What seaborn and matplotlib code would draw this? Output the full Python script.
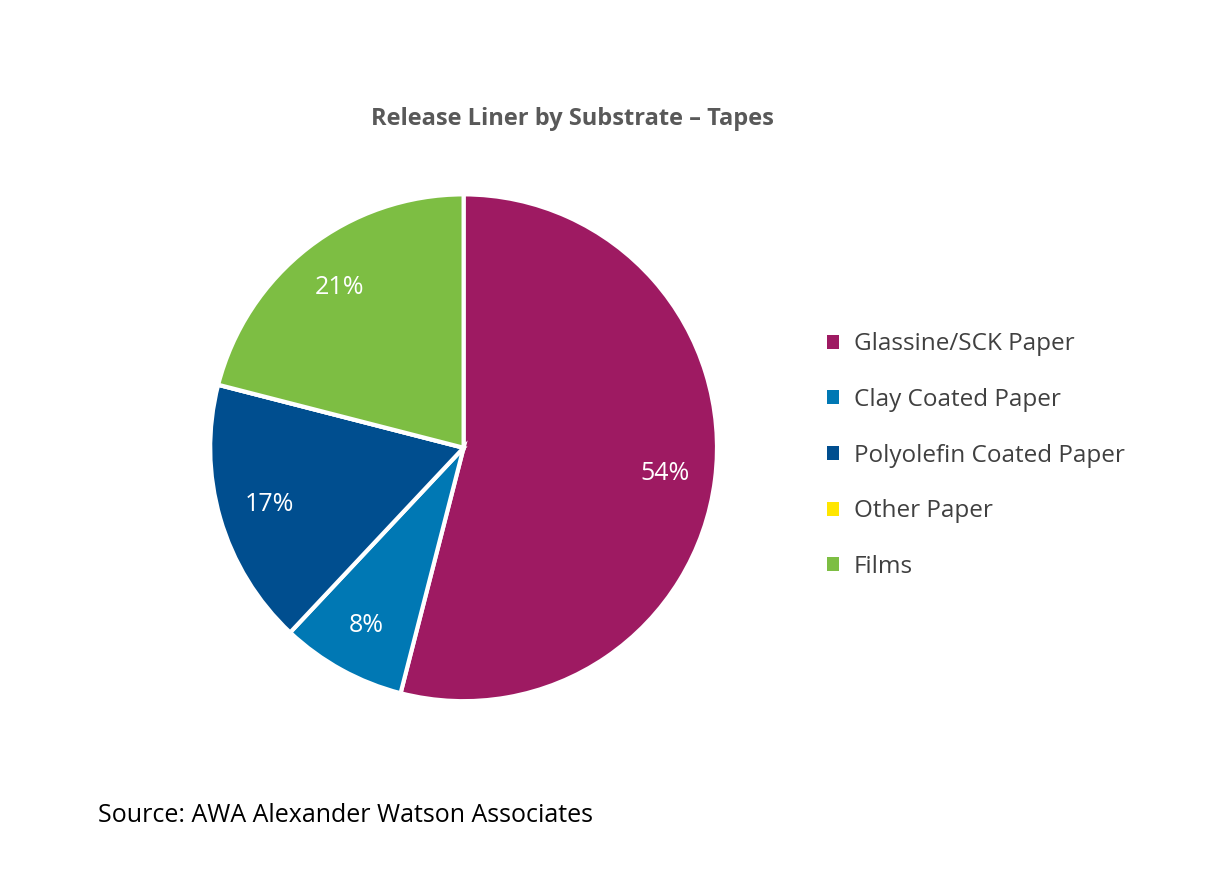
import matplotlib
matplotlib.use("Agg")
import matplotlib.pyplot as plt
import seaborn as sns
from matplotlib.patches import Patch

sns.set_theme(style="white")
plt.rcParams['font.family'] = ['Open Sans', 'DejaVu Sans']

categories = ["Glassine/SCK Paper", "Clay Coated Paper", "Polyolefin Coated Paper", "Other Paper", "Films"]
values = [54, 8, 17, 0, 21]
colors = ["#9E1A62", "#0078B4", "#004E8F", "#FFE600", "#7DBE43"]

fig = plt.figure(figsize=(12.2, 8.72), dpi=100)
ax = fig.add_axes([0.170, 0.193, 0.42, 0.587])
wedges, texts, autotexts = ax.pie(
    values, colors=colors, startangle=90, counterclock=False,
    autopct=lambda p: f"{p:.0f}%" if p > 0 else "", pctdistance=0.8,
    wedgeprops=dict(edgecolor="white", linewidth=3),
    textprops=dict(color="white", fontsize=18))
ax.set_xlim(-1.01, 1.01)
ax.set_ylim(-1.01, 1.01)
ax.set_aspect("equal")

handles = [Patch(facecolor=c, edgecolor="none") for c in colors]
fig.legend(handles, categories, loc="center left", bbox_to_anchor=(0.660, 0.4775),
           frameon=False, fontsize=17.5, handlelength=0.5, handleheight=0.5,
           handletextpad=0.6, labelspacing=1.3, labelcolor="#404040")

fig.text(0.469, 0.863, "Release Liner by Substrate – Tapes", ha="center", va="center",
         fontsize=17, fontweight="bold", color="#595959")
fig.text(0.080, 0.065, "Source: AWA Alexander Watson Associates", ha="left", va="center",
         fontsize=18, color="black")

fig.savefig("out.png", dpi=100, facecolor="white")
